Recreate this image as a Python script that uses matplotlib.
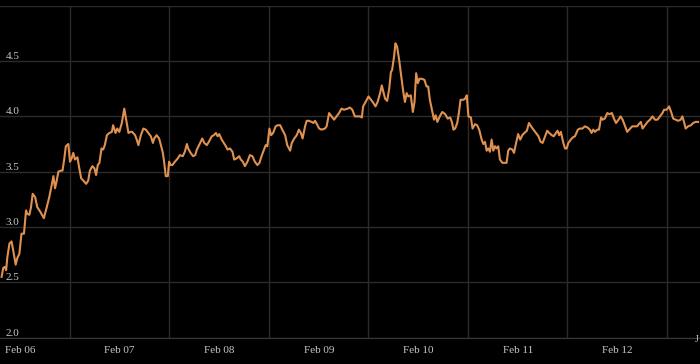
import numpy as np
import matplotlib
matplotlib.use('Agg')
import matplotlib.pyplot as plt
import matplotlib.dates as mdates
from datetime import datetime, timedelta

# Price trace, hours counted from Feb 06 00:00
hours = [7.5, 7.9, 8.3, 8.6, 8.9, 9.4, 9.9, 10.3, 10.9, 11.3, 11.8, 12.3, 12.9, 13.4, 13.7,
         14.2, 14.6, 15.0, 15.6, 16.1, 16.8, 17.7, 18.4, 19.0, 19.6, 20.0, 20.4, 20.8, 21.2,
         21.8, 22.2, 22.6, 23.0, 23.6, 24.0, 24.4, 24.8, 25.2, 25.8, 26.2, 26.7, 27.2, 27.9,
         28.4, 28.8, 29.4, 29.9, 30.3, 30.7, 31.1, 31.6, 32.0, 32.4, 32.9, 33.5, 34.1, 34.4,
         35.0, 35.4, 35.9, 36.5, 37.1, 37.7, 38.1, 38.6, 39.0, 39.7, 40.1, 40.5, 41.1, 41.7,
         42.3, 42.9, 43.5, 44.0, 44.3, 44.9, 45.5, 46.0, 46.4, 46.7, 47.1, 47.6, 47.9, 48.3,
         48.7, 49.3, 50.0, 50.5, 51.2, 51.7, 52.2, 52.5, 53.1, 53.7, 54.2, 54.6, 55.4, 55.9,
         56.4, 57.0, 57.5, 58.2, 58.7, 59.2, 59.6, 60.0, 60.6, 61.1, 61.6, 62.0, 62.6, 63.2,
         63.6, 64.2, 64.8, 65.2, 65.7, 66.2, 66.8, 67.4, 68.0, 68.6, 69.2, 69.7, 70.2, 70.8,
         71.2, 71.6, 72.1, 72.5, 73.0, 73.6, 74.1, 74.7, 75.2, 75.9, 76.4, 77.1, 77.5, 78.1,
         78.7, 79.2, 79.7, 80.1, 80.7, 81.1, 81.6, 82.3, 82.7, 83.1, 83.7, 84.1, 84.7, 85.5,
         85.9, 86.5, 87.1, 87.7, 88.3, 88.9, 89.5, 90.1, 91.0, 91.5, 92.1, 92.7, 93.4, 94.0,
         94.4, 94.7, 95.3, 96.0, 96.6, 97.2, 97.7, 98.2, 98.8, 99.2, 99.6, 100.0, 100.5,
         101.0, 101.4, 101.7, 102.2, 102.5, 102.9, 103.4, 103.8, 104.4, 104.8, 105.2, 105.6,
         106.2, 106.7, 107.1, 107.5, 107.9, 108.3, 108.8, 109.5, 110.0, 110.4, 110.8, 111.4,
         111.8, 112.2, 112.6, 113.2, 113.8, 114.5, 115.1, 115.7, 116.1, 116.5, 116.9, 117.4,
         117.8, 118.2, 118.9, 119.3, 119.7, 120.1, 120.7, 121.1, 121.7, 122.2, 122.7, 123.3,
         123.7, 124.1, 124.5, 124.9, 125.3, 125.7, 126.1, 126.5, 126.9, 127.3, 127.7, 128.3,
         128.8, 129.3, 129.7, 130.1, 130.7, 131.1, 131.6, 132.1, 132.6, 133.1, 133.6, 134.2,
         134.7, 135.2, 135.8, 136.4, 137.0, 137.5, 138.0, 138.6, 139.1, 139.6, 140.2, 140.7,
         141.2, 141.6, 142.0, 142.4, 143.0, 143.4, 143.8, 144.2, 144.8, 145.3, 145.8, 146.5,
         147.0, 147.6, 148.2, 148.8, 149.4, 149.8, 150.2, 150.6, 151.2, 151.6, 152.1, 152.5,
         153.0, 153.6, 154.1, 154.7, 155.2, 155.7, 156.3, 156.8, 157.3, 157.9, 158.4, 159.1,
         159.6, 160.3, 160.8, 161.2, 161.7, 162.1, 162.7, 163.3, 163.9, 164.5, 165.1, 165.7,
         166.3, 166.9, 167.3, 167.9, 168.5, 169.0, 169.5, 170.1, 170.7, 171.3, 171.7, 172.1,
         172.5, 173.1, 173.8, 174.3, 174.9, 175.5]

prices = [2.55, 2.63, 2.64, 2.61, 2.73, 2.85, 2.87, 2.79, 2.66, 2.72, 2.76, 2.94, 2.94, 3.15, 3.12,
          3.11, 3.18, 3.30, 3.27, 3.18, 3.14, 3.08, 3.18, 3.27, 3.38, 3.46, 3.35, 3.42, 3.50,
          3.51, 3.51, 3.61, 3.73, 3.75, 3.59, 3.62, 3.67, 3.61, 3.63, 3.54, 3.44, 3.42, 3.39,
          3.42, 3.51, 3.55, 3.53, 3.47, 3.56, 3.58, 3.71, 3.70, 3.74, 3.83, 3.85, 3.86, 3.92,
          3.85, 3.89, 3.86, 3.94, 4.07, 3.94, 3.85, 3.86, 3.86, 3.83, 3.79, 3.74, 3.83, 3.89,
          3.88, 3.85, 3.82, 3.76, 3.80, 3.83, 3.80, 3.73, 3.67, 3.59, 3.46, 3.46, 3.59, 3.56,
          3.56, 3.59, 3.62, 3.65, 3.64, 3.68, 3.75, 3.71, 3.67, 3.64, 3.65, 3.70, 3.76, 3.80,
          3.76, 3.74, 3.77, 3.82, 3.83, 3.85, 3.82, 3.84, 3.79, 3.76, 3.73, 3.70, 3.71, 3.68,
          3.61, 3.62, 3.64, 3.61, 3.59, 3.55, 3.59, 3.65, 3.64, 3.59, 3.56, 3.58, 3.64, 3.70,
          3.74, 3.73, 3.89, 3.83, 3.85, 3.91, 3.92, 3.92, 3.88, 3.83, 3.74, 3.69, 3.76, 3.80,
          3.83, 3.88, 3.85, 3.80, 3.91, 3.96, 3.96, 3.95, 3.94, 3.96, 3.92, 3.89, 3.88, 3.89,
          3.91, 4.03, 4.00, 3.97, 4.00, 4.03, 4.07, 4.06, 4.07, 4.08, 4.06, 4.00, 4.00, 4.00,
          3.99, 4.09, 4.13, 4.18, 4.15, 4.12, 4.09, 4.13, 4.21, 4.28, 4.22, 4.16, 4.14,
          4.25, 4.40, 4.42, 4.55, 4.66, 4.63, 4.51, 4.39, 4.22, 4.13, 4.21, 4.18,
          4.19, 4.04, 4.13, 4.39, 4.30, 4.34, 4.34, 4.33, 4.27, 4.27, 4.15, 4.04,
          3.97, 4.01, 3.95, 4.00, 4.04, 4.02, 3.98, 3.99, 3.95, 3.88, 3.89, 3.94,
          4.03, 4.15, 4.15, 4.16, 4.19, 4.00, 3.99, 3.89, 3.93, 3.92, 3.88, 3.79,
          3.75, 3.77, 3.69, 3.71, 3.68, 3.79, 3.69, 3.73, 3.71, 3.73, 3.61, 3.58,
          3.58, 3.58, 3.69, 3.71, 3.70, 3.67, 3.76, 3.84, 3.79, 3.83, 3.85, 3.87,
          3.94, 3.91, 3.88, 3.85, 3.82, 3.77, 3.76, 3.82, 3.87, 3.85, 3.83, 3.82,
          3.85, 3.87, 3.83, 3.86, 3.76, 3.71, 3.71, 3.76, 3.79, 3.81, 3.82, 3.88,
          3.89, 3.89, 3.91, 3.90, 3.88, 3.85, 3.88, 3.86, 3.88, 3.88, 3.99, 3.97,
          3.98, 4.03, 4.02, 4.03, 3.98, 3.94, 3.97, 4.00, 3.97, 3.91, 3.86, 3.89,
          3.91, 3.91, 3.91, 3.93, 3.95, 3.89, 3.92, 3.95, 3.97, 4.00, 3.97, 3.97,
          4.00, 4.03, 4.06, 4.06, 4.09, 4.04, 3.98, 3.97, 3.96, 3.97, 4.00, 3.95,
          3.89, 3.91, 3.92, 3.94, 3.95, 3.95]

day_labels = ['Feb 06', 'Feb 07', 'Feb 08', 'Feb 09', 'Feb 10', 'Feb 11', 'Feb 12']
y_ticks = [2.0, 2.5, 3.0, 3.5, 4.0, 4.5]

start = datetime(2024, 2, 6)
times = [start + timedelta(hours=h) for h in hours]

bg = '#000000'
grid_col = '#2b2b2b'
text_col = '#c8c8c8'
line_col = '#e0914f'

plt.rcParams['font.family'] = ['Liberation Serif', 'DejaVu Serif']

fig = plt.figure(figsize=(7.0, 3.64), dpi=100, facecolor=bg)
ax = fig.add_axes([0.0, 0.0723, 1.0, 0.912], facecolor=bg)

ax.plot(times, prices, color=line_col, linewidth=1.5, solid_joinstyle='round')

ax.set_xlim(start + timedelta(hours=7.12), start + timedelta(hours=175.96))
ax.set_ylim(2.0, 5.0)

# gridlines at midnight, labels at noon
midnights = [start + timedelta(days=d) for d in range(1, 8)]
noons = [start + timedelta(days=d, hours=12) for d in range(len(day_labels))]
ax.set_xticks(mdates.date2num(midnights), minor=True)
ax.set_xticks(mdates.date2num(noons))
ax.set_xticklabels(day_labels)
ax.grid(which='minor', axis='x', color=grid_col, linewidth=1)

ax.set_yticks(y_ticks + [5.0])
ax.set_yticklabels([f'{v:.1f}' for v in y_ticks] + [''])
ax.grid(which='major', axis='y', color=grid_col, linewidth=1)

ax.tick_params(axis='x', which='both', length=0, pad=6, labelsize=8, labelcolor=text_col)
ax.tick_params(axis='y', length=0, pad=-4, labelsize=8, labelcolor=text_col)
for lbl in ax.get_yticklabels():
    lbl.set_horizontalalignment('left')
    lbl.set_verticalalignment('bottom')

for side in ['top', 'right', 'left']:
    ax.spines[side].set_visible(False)
ax.spines['bottom'].set_color('#3a3a3a')

# clipped label at the right edge
fig.text(0.993, 0.055, 'J', color=text_col, fontsize=7, ha='left', va='bottom')

fig.savefig('out.png', dpi=100, facecolor=bg)
